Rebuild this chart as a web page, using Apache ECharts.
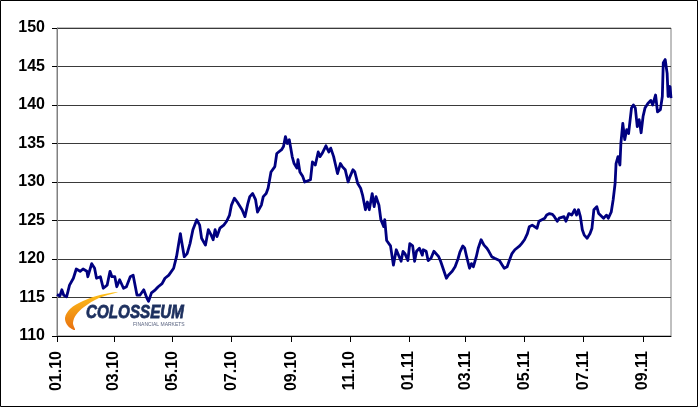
<!DOCTYPE html>
<html>
<head>
<meta charset="utf-8">
<script src="https://cdn.jsdelivr.net/npm/echarts@6/dist/echarts.min.js"></script>
<style>
html,body{margin:0;padding:0;background:#fff;}
#chart{width:700px;height:409px;}
</style>
</head>
<body>
<div id="chart"></div>
<script>
// Tick labels (MM.YY) on the time axis
const tickLabels = ['01.10','03.10','05.10','07.10','09.10','11.10','01.11','03.11','05.11','07.11','09.11'];
// Days since 2010-01-01
const days = [0,3,5,7,10,13,17,20,24,27,31,32,36,39,41,45,48,52,55,57,60,62,65,69,72,76,79,81,83,86,90,93,95,98,102,105,109,112,116,121,124,128,129,132,135,138,141,145,148,150,154,157,160,162,164,166,169,173,176,179,181,184,187,192,195,198,200,203,206,208,212,214,217,219,222,226,228,230,233,235,237,239,241,244,246,249,250,252,255,257,259,263,265,268,271,273,275,279,282,284,287,289,291,294,296,299,302,304,307,309,312,315,317,320,322,324,327,329,331,334,336,339,340,342,346,348,349,352,354,357,359,361,364,366,369,371,373,376,379,380,383,385,388,391,393,396,398,401,404,406,410,413,416,418,421,423,425,428,430,432,435,437,440,443,446,448,451,454,456,459,462,464,467,469,472,475,477,480,482,485,488,490,493,495,498,500,503,506,508,511,514,516,519,521,526,528,531,534,537,539,541,543,545,547,550,553,555,557,560,562,564,567,570,572,575,577,579,580,582,584,585,587,589,591,593,596,598,600,602,604,606,608,610,613,616,618,621,623,626,628,629,631,633,634,636,637];
const values = [115.4,115.2,116.0,115.3,115.1,116.6,117.5,118.7,118.4,118.7,118.4,117.7,119.4,118.8,117.5,117.7,116.2,116.6,118.4,117.7,117.7,116.4,117.3,116.2,116.4,117.7,117.9,116.6,115.3,115.3,116.0,115.0,114.5,115.6,116.0,116.4,116.8,117.5,117.9,118.8,120.3,123.3,122.5,120.3,120.7,122.0,123.8,125.1,124.4,122.7,121.8,123.8,123.1,122.5,123.8,122.9,124.0,124.4,124.9,125.7,127.0,127.9,127.4,126.4,125.5,127.2,128.1,128.5,127.7,126.1,127.0,128.1,128.5,129.2,131.3,132.0,133.7,133.9,134.2,134.6,135.9,135.0,135.5,133.3,132.4,131.8,132.9,131.3,130.7,130.0,129.8,130.3,132.6,132.2,133.9,133.3,133.7,134.7,133.9,134.4,133.3,132.2,131.1,132.4,132.0,131.6,130.0,130.7,131.6,131.3,129.8,129.2,128.3,126.4,127.4,126.4,128.5,126.8,128.1,127.0,125.1,124.2,125.1,122.4,121.7,121.8,119.2,121.2,121.0,119.7,121.0,120.7,119.8,122.0,121.7,119.7,121.0,121.4,120.5,121.2,121.0,119.8,120.1,121.0,121.2,120.3,119.7,118.6,117.5,117.9,118.4,119.0,120.0,120.9,121.7,121.4,120.3,118.8,119.4,119.0,120.3,121.4,122.5,121.8,121.4,121.0,120.3,120.1,120.3,119.8,119.2,118.8,119.0,119.7,120.7,121.2,121.4,121.7,122.0,122.5,123.3,124.2,124.4,124.6,124.0,124.9,125.1,125.3,125.7,125.9,125.8,125.5,124.9,125.3,125.5,124.9,125.9,125.7,126.4,125.7,126.4,125.5,123.8,123.1,122.7,123.3,124.0,126.4,126.8,125.9,126.1,125.3,125.7,125.3,126.1,127.7,129.8,132.4,133.3,132.2,135.0,137.6,135.5,136.8,136.3,139.6,140.0,139.6,137.2,138.1,136.4,138.5,139.6,140.2,140.6,140.0,141.3,139.1,139.4,141.1,145.5,145.9,144.1,141.1,142.4,140.9];

const DAY = 86400000;
const base = Date.UTC(2010, 0, 1);
const tickDays = tickLabels.map(function (s) {
  const m = parseInt(s.slice(0, 2), 10) - 1;
  const y = 2000 + parseInt(s.slice(3), 10);
  return Math.round((Date.UTC(y, m, 1) - base) / DAY);
});
const lastDay = Math.round((Date.UTC(2011, 8, 30) - base) / DAY);
const seriesData = days.map(function (d, i) { return [d, values[i]]; });

const chart = echarts.init(document.getElementById('chart'), null, {renderer: 'canvas'});
const font = '"Liberation Sans", Arial, sans-serif';
chart.setOption({
  animation: false,
  backgroundColor: '#ffffff',
  grid: {left: 57, top: 28, width: 614, height: 308, show: true, borderColor: '#808080', borderWidth: 1, backgroundColor: 'transparent'},
  xAxis: {
    type: 'value', min: 0, max: lastDay,
    axisLine: {show: true, lineStyle: {color: '#000', width: 1}},
    axisTick: {show: true, length: 6, lineStyle: {color: '#000'}, customValues: tickDays},
    axisLabel: {
      rotate: 90, margin: 15, color: '#000', fontFamily: font, fontWeight: 'bold', fontSize: 16,
      customValues: tickDays,
      formatter: function (v) { const i = tickDays.indexOf(Math.round(v)); return i >= 0 ? tickLabels[i] : ''; }
    },
    splitLine: {show: false}
  },
  yAxis: {
    type: 'value', min: 110, max: 150, interval: 5,
    axisLine: {show: true, lineStyle: {color: '#808080', width: 1}},
    axisTick: {show: true, length: 5, lineStyle: {color: '#000'}},
    axisLabel: {color: '#000', fontFamily: font, fontWeight: 'bold', fontSize: 16, margin: 12},
    splitLine: {show: true, lineStyle: {color: '#3a3a3a', width: 1}}
  },
  series: [{
    type: 'line', data: seriesData, showSymbol: false, symbol: 'none',
    lineStyle: {color: '#000080', width: 2.8, join: 'round'}, z: 5
  }],
  graphic: [
    {type: 'rect', shape: {x: 0.5, y: 0.5, width: 697, height: 406}, style: {fill: 'none', stroke: '#000', lineWidth: 1}, silent: true},
    {type: 'polygon', shape: {smooth: 0.35, points: [[118,292],[100,295],[83,301],[70,309],[65,318],[68,326],[75,330],[73,323],[76,315],[84,307],[99,298]]},
     style: {fill: {type: 'linear', x: 0, y: 0, x2: 0, y2: 1, colorStops: [{offset: 0, color: '#ffc21a'}, {offset: 1, color: '#e8700f'}]}}, z: 1, silent: true},
    {type: 'text', x: 86, y: 303, scaleX: 0.8, z: 2, silent: true,
     style: {text: 'COLOSSEUM', font: 'italic bold 19px "Liberation Sans", Arial, sans-serif', fill: '#1c2f5e', stroke: '#1c2f5e', lineWidth: 0.8, textVerticalAlign: 'top'}},
    {type: 'text', x: 133, y: 322, z: 2, silent: true,
     style: {text: 'FINANCIAL MARKETS', font: '5px "Liberation Sans", Arial, sans-serif', fill: '#5a6480', textVerticalAlign: 'top'}}
  ]
});
</script>
</body>
</html>
